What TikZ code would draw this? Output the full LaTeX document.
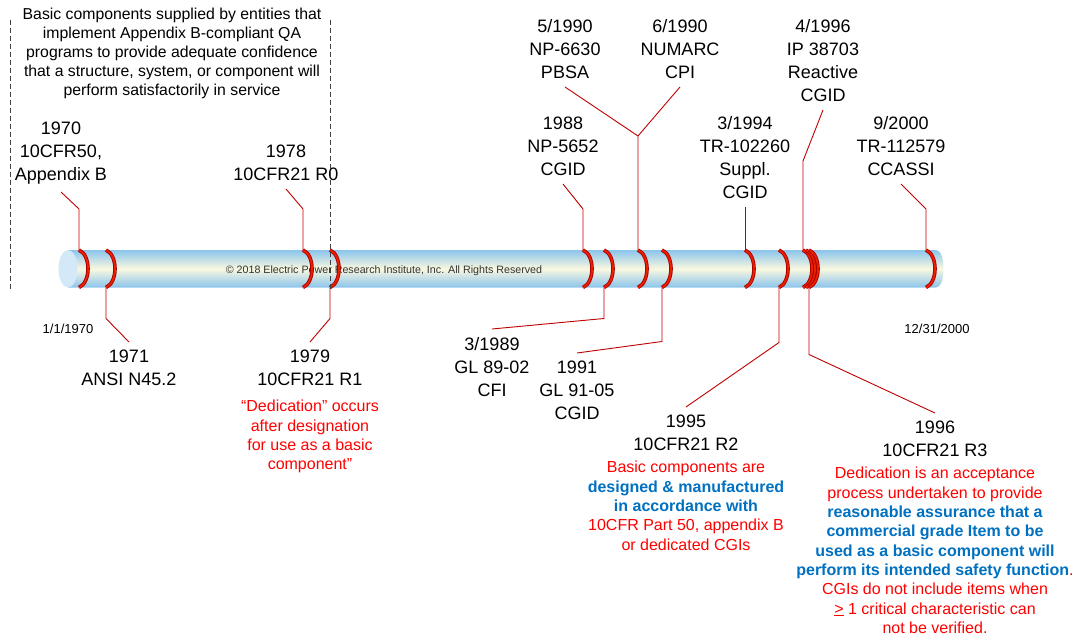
\documentclass[tikz,border=0pt]{standalone}
\usepackage{fontspec}
\setmainfont{Liberation Sans}
\usetikzlibrary{positioning}
\definecolor{leadred}{RGB}{192,0,0}
\definecolor{bandred}{RGB}{235,30,0}
\definecolor{banddark}{RGB}{165,0,0}
\definecolor{tubeblue}{RGB}{138,196,236}
\definecolor{tubecream}{RGB}{250,248,224}
\definecolor{capblue}{RGB}{212,233,247}
\definecolor{noteblue}{RGB}{0,112,192}
\newcommand{\blu}[1]{\textcolor{noteblue}{\bfseries #1}}

\begin{document}
\begin{tikzpicture}
        [x=1pt,y=-1pt,
         event/.style={align=center,inner xsep=2pt,inner ysep=8pt,
           font=\fontsize{18}{23}\selectfont},
         note/.style={align=center,inner sep=0pt,text=red,
           font=\fontsize{16}{19.3}\selectfont},
         datelabel/.style={anchor=base,font=\fontsize{13}{15}\selectfont},
         lead/.style={leadred,line width=0.9pt},
         bandout/.style={banddark,line width=3.6pt},
         bandin/.style={bandred,line width=1.9pt},
         boxline/.style={black!75,line width=0.8pt,dash pattern=on 5pt off 3pt}]
        \useasboundingbox (0,0) rectangle (1076,639);

        \shade[top color=tubeblue,bottom color=tubeblue,middle color=tubecream]
          (68,250) -- (936,250) .. controls (946,250) and (946,287.5) .. (936,287.5)
          -- (68,287.5) -- cycle;
        \fill[capblue] (68,268.75) ellipse [x radius=9.5pt,y radius=18.75pt];
        \node[anchor=base,text=black!80,font=\fontsize{10.7}{12}\selectfont] (copy) at (384,273)
          {© 2018 Electric Power Research Institute, Inc. All Rights Reserved};

        \foreach \n/\bx in {1970/79,1971/106,1978/303,1979/330,1988/583,1989/604,
            1990/638,1991/662,1994/745,1995/779,96a/803,96b/806,96c/809,2000/926}{
          \coordinate (t\n) at (\bx,250);
          \coordinate (u\n) at (\bx,287.5);
          \draw[bandout] (t\n) .. controls +(12,5) and +(12,-5) .. (u\n);
          \draw[bandin] (t\n) .. controls +(12,5) and +(12,-5) .. (u\n);
        }

        \node[anchor=north,align=center,inner sep=0pt,font=\fontsize{15.8}{19}\selectfont]
          (scope) at (172,8) {Basic components supplied by entities that\\
          implement Appendix B-compliant QA\\programs to provide adequate confidence\\
          that a structure, system, or component will\\perform satisfactorily in service};

        \node[event,anchor=south] (l1970) at (61,192) {1970\\10CFR50,\\Appendix B};
        \node[event,anchor=south] (l1978) at (286,189) {1978\\10CFR21 R0};
        \node[event,anchor=south] (l1988) at (563,184) {1988\\NP-5652\\CGID};
        \node[event,anchor=south] (l1990a) at (565,87) {5/1990\\NP-6630\\PBSA};
        \node[event,anchor=south] (l1990b) at (680,87) {6/1990\\NUMARC\\CPI};
        \node[event,anchor=south] (l1994) at (745,207) {3/1994\\TR-102260\\Suppl.\\CGID};
        \node[event,anchor=south] (l96a) at (823,110) {4/1996\\IP 38703\\Reactive\\CGID};
        \node[event,anchor=south] (l2000) at (901,184) {9/2000\\TR-112579\\CCASSI};

        \node[event,anchor=north] (l1971) at (129,342) {1971\\ANSI N45.2};
        \node[event,anchor=north] (l1979) at (310,342) {1979\\10CFR21 R1};
        \node[event,anchor=north] (l1989) at (492,329) {3/1989\\GL 89-02\\CFI};
        \node[event,anchor=north] (l1991) at (577,353) {1991\\GL 91-05\\CGID};
        \node[event,anchor=north] (l1995) at (686,407) {1995\\10CFR21 R2};
        \node[event,anchor=north] (l1996) at (935,413) {1996\\10CFR21 R3};

        \node[note,below=6pt of l1979] (n1979)
          {“Dedication” occurs\\after designation\\for use as a basic\\component”};
        \node[note,below=2pt of l1995] (n1995)
          {Basic components are\\\blu{designed \& manufactured}\\\blu{in accordance with}\\
          10CFR Part 50, appendix B\\or dedicated CGIs};
        \node[note,below=2pt of l1996] (n1996)
          {Dedication is an acceptance\\process undertaken to provide\\
          \blu{reasonable assurance that a}\\\blu{commercial grade Item to be}\\
          \blu{used as a basic component will}\\\blu{perform its intended safety function}.\\
          CGIs do not include items when\\\underline{>} 1 critical characteristic can\\
          not be verified.};

        \node[datelabel] (start) at (68,333) {1/1/1970};
        \node[datelabel] (finish) at (937,333) {12/31/2000};

        \draw[lead] (t1970) -- ++(0,-41) -- (l1970.south);
        \draw[lead] (t1978) -- ++(0,-41) -- (l1978.south);
        \draw[lead] (t1988) -- ++(0,-41) -- (l1988.south);
        \coordinate (k1990) at (638,136);
        \draw[lead] (t1990) -- (k1990) -- (l1990a.south);
        \draw[lead] (k1990) -- (l1990b.south);
        \draw[lead] (t1994) -- (l1994.south);
        \draw[lead] (t96a) -- ++(0,-89) -- (l96a.south);
        \draw[lead] (t2000) -- ++(0,-41) -- (l2000.south);
        \draw[lead] (u1971) -- ++(0,31) -- (l1971.north);
        \draw[lead] (u1979) -- ++(0,31) -- (l1979.north);
        \draw[lead] (u1989) -- ++(0,31) -- (l1989.north);
        \draw[lead] (u1991) -- ++(0,54) -- (l1991.north);
        \draw[lead] (u1995) -- ++(0,55) -- (l1995.north);
        \draw[lead] (u96c) -- ++(0,67) -- (l1996.north);

        \draw[boxline] (10,20) -- (10,290);
        \draw[boxline] (330,20) -- (330,290);
\end{tikzpicture}
\end{document}
